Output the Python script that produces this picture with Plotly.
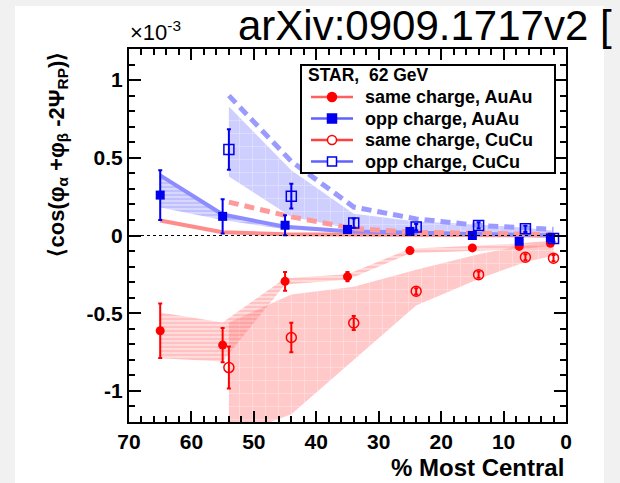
import plotly.graph_objects as go

# ---- STAR 62 GeV charge-dependent correlator (values in units of 1e-3) ----
auau_cent = [65, 55, 45, 35, 25, 15, 7.5, 2.5]
auau_same = [-0.613, -0.705, -0.295, -0.265, -0.097, -0.080, -0.070, -0.050]
auau_same_err = [0.175, 0.11, 0.06, 0.03, 0.015, 0.012, 0.012, 0.012]
auau_opp = [0.26, 0.123, 0.066, 0.039, 0.026, 0.0, -0.037, -0.015]
auau_opp_err = [0.16, 0.11, 0.065, 0.02, 0.015, 0.012, 0.012, 0.012]

cucu_cent = [54, 44, 34, 24, 14, 6.5, 2]
cucu_same = [-0.85, -0.656, -0.563, -0.359, -0.252, -0.14, -0.146]
cucu_same_err = [0.135, 0.095, 0.045, 0.02, 0.02, 0.02, 0.02]
cucu_opp = [0.553, 0.253, 0.08, 0.054, 0.065, 0.043, -0.02]
cucu_opp_err = [0.13, 0.08, 0.03, 0.02, 0.02, 0.02, 0.02]

# systematic bands (upper / lower edges)
auau_same_sys_hi = [-0.495, -0.56, -0.275, -0.25, -0.085, -0.068, -0.052, -0.032]
auau_same_sys_lo = [-0.79, -0.81, -0.315, -0.285, -0.115, -0.098, -0.088, -0.068]
auau_opp_sys_hi = [0.387, 0.135, 0.054, 0.03, 0.02, 0.012, 0.006, 0.002]
auau_opp_sys_lo = [0.18, 0.10, 0.04, 0.02, 0.01, 0.0, -0.01, -0.01]
cucu_same_sys_hi = [-0.56, -0.38, -0.33, -0.22, -0.12, -0.06, -0.05]
cucu_same_sys_lo = [-1.30, -1.15, -0.80, -0.45, -0.28, -0.17, -0.13]
cucu_opp_sys_hi = [0.83, 0.42, 0.14, 0.09, 0.07, 0.05, 0.03]
cucu_opp_sys_lo = [0.38, 0.12, 0.04, 0.03, 0.03, 0.01, -0.02]

# reference curves
auau_curve_opp = [0.387, 0.135, 0.056, 0.028, 0.02, 0.01, 0.005, 0.0]
auau_curve_same = [0.097, 0.021, 0.008, 0.005, 0.003, 0.002, 0.001, 0.0]
cucu_curve_opp = [0.90, 0.477, 0.183, 0.107, 0.065, 0.05, 0.04]
cucu_curve_same = [0.215, 0.12, 0.045, 0.02, 0.015, 0.01, 0.005]

x_tick_vals = [70, 60, 50, 40, 30, 20, 10, 0]
x_tick_text = ["70", "60", "50", "40", "30", "20", "10", "0"]
y_tick_vals = [-1, -0.5, 0, 0.5, 1]
y_tick_text = ["-1", "-0.5", "0", "0.5", "1"]

legend_header = "STAR,\u00a0 62 GeV"
legend_labels = ["same charge, AuAu", "opp charge, AuAu",
                 "same charge, CuCu", "opp charge, CuCu"]

RED = "#ff0000"
BLUE = "#0000ee"
FONT = "Liberation Sans, Arial, Helvetica, sans-serif"

W, H = 620, 483
ML, MR, MT, MB = 129, 54, 49, 61
PW, PH = W - ML - MR, H - MT - MB


def px(x):
    """page pixel column -> paper coordinate"""
    return (x - ML) / PW


def py(y):
    """page pixel row -> paper coordinate"""
    return (H - MB - y) / PH


fig = go.Figure()


def band(x, hi, lo, bg, fg, shape, size, solidity):
    return go.Scatter(
        x=list(x) + list(x)[::-1],
        y=list(hi) + list(lo)[::-1],
        mode="lines", line=dict(width=0), fill="toself",
        fillcolor=bg,
        fillpattern=dict(shape=shape, bgcolor=bg, fgcolor=fg,
                         size=size, solidity=solidity),
        hoverinfo="skip", showlegend=False,
    )


fig.add_trace(band(cucu_cent, cucu_same_sys_hi, cucu_same_sys_lo,
                   "rgba(255,120,120,0.40)", "rgba(255,255,255,0.9)", "+", 13, 0.1))
fig.add_trace(band(auau_cent, auau_same_sys_hi, auau_same_sys_lo,
                   "rgba(255,150,150,0.35)", "rgba(255,60,60,0.55)", "-", 4, 0.3))
fig.add_trace(band(cucu_cent, cucu_opp_sys_hi, cucu_opp_sys_lo,
                   "rgba(120,120,255,0.36)", "rgba(255,255,255,0.9)", "+", 13, 0.1))
fig.add_trace(band(auau_cent, auau_opp_sys_hi, auau_opp_sys_lo,
                   "rgba(140,140,255,0.35)", "rgba(70,70,255,0.55)", "-", 4, 0.3))

# curves
fig.add_trace(go.Scatter(x=auau_cent, y=auau_curve_same, mode="lines",
                         line=dict(color="#ff8c8c", width=4),
                         hoverinfo="skip", showlegend=False))
fig.add_trace(go.Scatter(x=auau_cent, y=auau_curve_opp, mode="lines",
                         line=dict(color="#8c8cff", width=4),
                         hoverinfo="skip", showlegend=False))
fig.add_trace(go.Scatter(x=cucu_cent, y=cucu_curve_same, mode="lines",
                         line=dict(color="#ff9a9a", width=5, dash="10px,6px"),
                         hoverinfo="skip", showlegend=False))
fig.add_trace(go.Scatter(x=cucu_cent, y=cucu_curve_opp, mode="lines",
                         line=dict(color="#9a9aff", width=5, dash="10px,6px"),
                         hoverinfo="skip", showlegend=False))


def points(x, y, err, color, symbol, size, lw):
    return go.Scatter(
        x=x, y=y, mode="markers",
        marker=dict(symbol=symbol, size=size, color=color,
                    line=dict(color=color, width=lw)),
        error_y=dict(type="data", array=err, color=color, thickness=2, width=2),
        showlegend=False,
    )


fig.add_trace(points(auau_cent, auau_same, auau_same_err, RED, "circle", 9, 0))
fig.add_trace(points(auau_cent, auau_opp, auau_opp_err, BLUE, "square", 9, 0))
fig.add_trace(points(cucu_cent, cucu_same, cucu_same_err, RED, "circle-open", 10, 1.5))
fig.add_trace(points(cucu_cent, cucu_opp, cucu_opp_err, BLUE, "square-open", 10, 1.5))

axis_common = dict(
    showline=True, linecolor="black", linewidth=2, mirror="allticks",
    ticks="inside", tickcolor="black", tickwidth=1.5,
    showgrid=False, zeroline=False,
    tickfont=dict(family=FONT, size=21, color="black", weight="bold"),
)

fig.update_xaxes(
    range=[70, 0], tickmode="array", tickvals=x_tick_vals, ticktext=x_tick_text,
    ticklen=11, minor=dict(ticks="inside", dtick=2, tick0=0, ticklen=6,
                           tickcolor="black", tickwidth=1.5),
    **axis_common,
)
fig.update_yaxes(
    range=[-1.2, 1.2], tickmode="array", tickvals=y_tick_vals, ticktext=y_tick_text,
    ticklen=12, minor=dict(ticks="inside", dtick=0.1, tick0=0, ticklen=6,
                           tickcolor="black", tickwidth=1.5),
    **axis_common,
)

# ---- legend box drawn as a keyed panel ----
shapes = [
    dict(type="rect", xref="paper", yref="paper",
         x0=px(15), x1=px(604), y0=py(H + 20), y1=py(6),
         fillcolor="white", line=dict(width=0), layer="below"),
    dict(type="line", xref="paper", yref="y", x0=0, x1=1, y0=0, y1=0,
         line=dict(color="black", width=1.2, dash="dot")),
    dict(type="rect", xref="paper", yref="paper",
         x0=px(301), x1=px(555), y0=py(173), y1=py(65),
         fillcolor="white", line=dict(color="black", width=2)),
]
annotations = [
    dict(text=legend_header, xref="paper", yref="paper", x=px(306), y=py(75),
         xanchor="left", yanchor="middle", showarrow=False,
         font=dict(family=FONT, size=17.5, color="black", weight="bold")),
]
key_styles = [
    ("#ff6060", RED, RED, "circle"),
    ("#6060ff", BLUE, BLUE, "square"),
    ("#ff4040", RED, "white", "circle"),
    ("#6060ff", BLUE, "white", "square"),
]
row_y = [97, 118.5, 140, 161.5]
for label, yy, (lc, mc, fc, kind) in zip(legend_labels, row_y, key_styles):
    shapes.append(dict(type="line", xref="paper", yref="paper",
                       x0=px(311), x1=px(353), y0=py(yy), y1=py(yy),
                       line=dict(color=lc, width=2.5)))
    r = 4.5
    shapes.append(dict(type="circle" if kind == "circle" else "rect",
                       xref="paper", yref="paper",
                       x0=px(332 - r), x1=px(332 + r), y0=py(yy + r), y1=py(yy - r),
                       fillcolor=fc, line=dict(color=mc, width=1.5)))
    annotations.append(dict(text=label, xref="paper", yref="paper",
                            x=px(363), y=py(yy), xanchor="left", yanchor="middle",
                            showarrow=False,
                            font=dict(family=FONT, size=18, color="black",
                                      weight="bold")))

annotations += [
    dict(text="arXiv:0909.1717v2 [", xref="paper", yref="paper",
         x=px(236), y=py(26), xanchor="left", yanchor="middle",
         showarrow=False, font=dict(family=FONT, size=42, color="black")),
    dict(text="\u00d710<sup>-3</sup>", xref="paper", yref="paper",
         x=px(128), y=py(47), xanchor="left", yanchor="bottom",
         showarrow=False, font=dict(family=FONT, size=22, color="black")),
    dict(text="% Most Central", xref="paper", yref="paper",
         x=px(566), y=py(467), xanchor="right", yanchor="middle",
         showarrow=False,
         font=dict(family=FONT, size=24, color="black", weight="bold")),
    dict(text="\u27e8cos(\u03c6<sub>\u03b1</sub> +\u03c6<sub>\u03b2</sub> -2\u03a8<sub>RP</sub>)\u27e9",
         xref="paper", yref="paper", x=px(57), y=py(50),
         xanchor="center", yanchor="top", textangle=-90, showarrow=False,
         font=dict(family=FONT, size=22, color="black", weight="bold")),
]

fig.update_layout(
    width=W, height=H,
    margin=dict(l=ML, r=MR, t=MT, b=MB),
    paper_bgcolor="#f1f1f1", plot_bgcolor="white",
    font=dict(family=FONT, color="black"),
    showlegend=False,
    shapes=shapes,
    annotations=annotations,
)

fig.write_html("out.html")
